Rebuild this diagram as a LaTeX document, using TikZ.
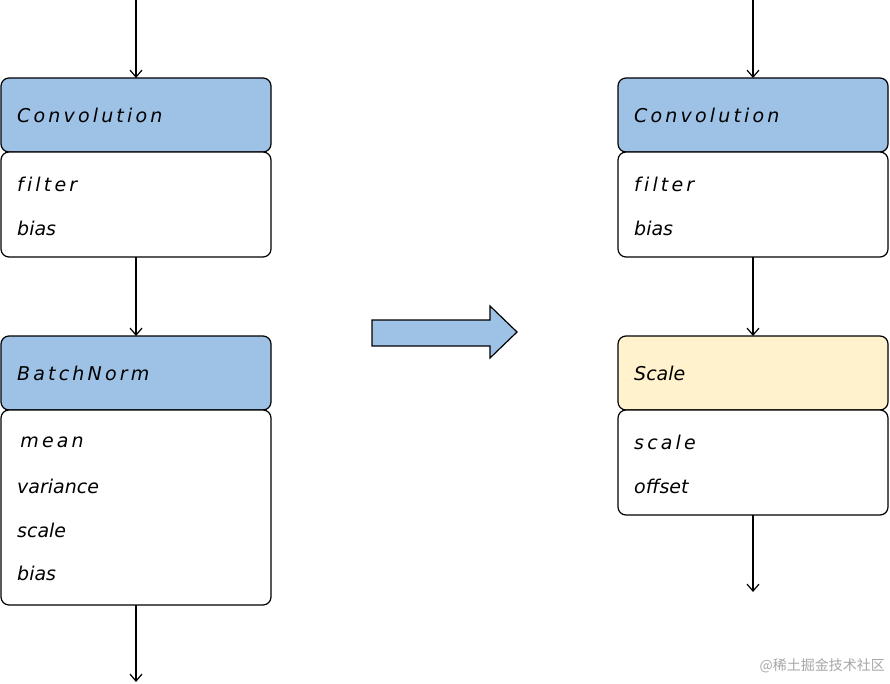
\documentclass[tikz,border=0pt]{standalone}
\usepackage{fontspec}
\setmainfont{DejaVu Sans}
\newfontfamily\cjk{Noto Sans CJK SC}
\usetikzlibrary{arrows.meta}
\begin{document}
\begin{tikzpicture}[x=1pt,y=-1pt,
  hdr/.style={draw=black,line width=1.2pt,rounded corners=8pt},
  txt/.style={anchor=west,font=\fontsize{19}{22}\selectfont\itshape,inner sep=0pt},
  conn/.style={-{Straight Barb[length=7pt,width=12pt]},line width=1.2pt}]
\useasboundingbox (0,0) rectangle (890,684);
\colorlet{blu}{rgb,255:red,158;green,194;blue,230}
\colorlet{ylw}{rgb,255:red,255;green,242;blue,204}
% left
\coordinate (t0) at (136,0);
\draw[hdr,fill=blu] (1,78) rectangle (271,152);
\node[coordinate] (c1t) at (136,78) {};
\draw[hdr,fill=white] (1,152) rectangle (271,257);
\node[coordinate] (c1b) at (136,257) {};
\draw[hdr,fill=blu] (1,336) rectangle (271,410);
\node[coordinate] (b1t) at (136,336) {};
\draw[hdr,fill=white] (1,410) rectangle (271,605);
\node[coordinate] (b1b) at (136,605) {};
\coordinate (e1) at (136,682);
\node[txt] (l1) at (17,115) {C\,o\,n\,v\,o\,l\,u\,t\,i\,o\,n};
\node[txt] (l2) at (17,184) {f\,i\,l\,t\,e\,r};
\node[txt] (l3) at (17,228) {bias};
\node[txt] (l4) at (17,373) {B\,a\,t\,c\,h\,N\,o\,r\,m};
\node[txt] (l5) at (17,442) {\,m\,e\,a\,n};
\node[txt] (l6) at (17,486) {variance};
\node[txt] (l7) at (17,530) {scale};
\node[txt] (l8) at (17,573) {bias};
\draw[conn] (t0) -- (c1t);
\draw[conn] (c1b) -- (b1t);
\draw[conn] (b1b) -- (e1);
% right
\coordinate (t2) at (753,0);
\draw[hdr,fill=blu] (618,78) rectangle (888,152);
\node[coordinate] (c2t) at (753,78) {};
\draw[hdr,fill=white] (618,152) rectangle (888,257);
\node[coordinate] (c2b) at (753,257) {};
\draw[hdr,fill=ylw] (618,336) rectangle (888,410);
\node[coordinate] (s2t) at (753,336) {};
\draw[hdr,fill=white] (618,410) rectangle (888,515);
\node[coordinate] (s2b) at (753,515) {};
\coordinate (e2) at (753,592);
\node[txt] (r1) at (634,115) {C\,o\,n\,v\,o\,l\,u\,t\,i\,o\,n};
\node[txt] (r2) at (634,184) {f\,i\,l\,t\,e\,r};
\node[txt] (r3) at (634,228) {bias};
\node[txt] (r4) at (634,373) {Scale};
\node[txt] (r5) at (634,442) {s\,c\,a\,l\,e};
\node[txt] (r6) at (634,486) {offset};
\draw[conn] (t2) -- (c2t);
\draw[conn] (c2b) -- (s2t);
\draw[conn] (s2b) -- (e2);
% big arrow
\draw[fill=blu,line width=1.2pt] (372,320) -- (490,320) -- (490,306) -- (517,332) -- (490,358) -- (490,346) -- (372,346) -- cycle;
\node[anchor=east,text=gray!70,font=\cjk\fontsize{14}{16}\selectfont,inner sep=0pt] (wm) at (885,666) {@稀土掘金技术社区};
\end{tikzpicture}
\end{document}
